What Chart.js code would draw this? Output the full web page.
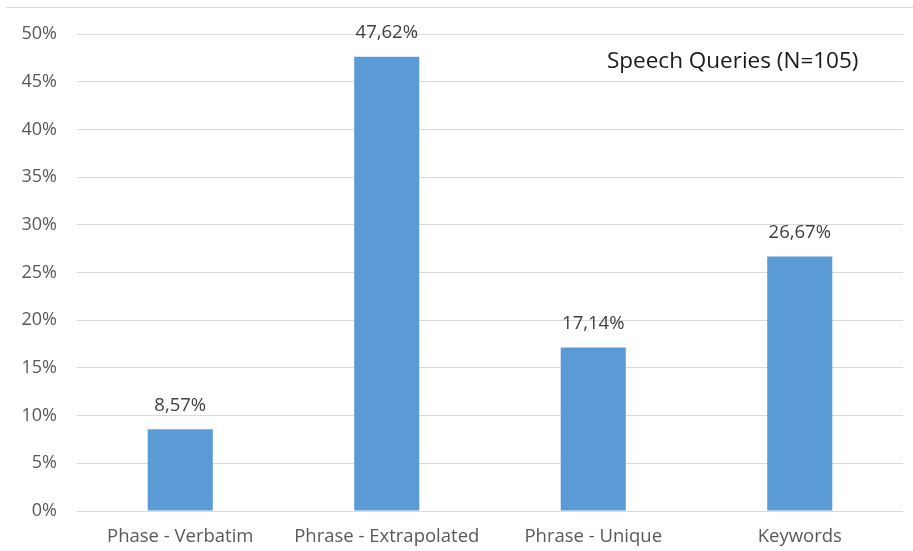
<!DOCTYPE html>
<html>
<head>
<meta charset="utf-8">
<script src="https://cdn.jsdelivr.net/npm/chart.js@4.4.0/dist/chart.umd.min.js"></script>
<style>
  html, body { margin: 0; padding: 0; background: #fff; }
  #wrap { position: relative; width: 913px; height: 551px; }
  #topline { position: absolute; left: 6px; right: 0; top: 7px; border-top: 1px solid #d9d9d9; }
</style>
</head>
<body>
<div id="wrap">
  <div id="topline"></div>
  <canvas id="chart" width="913" height="551"></canvas>
</div>
<script>
// chart data
var categories = ["Phase - Verbatim", "Phrase - Extrapolated", "Phrase - Unique", "Keywords"];
var shares = [8.57, 47.62, 17.14, 26.67];
var chartTitle = "Speech Queries (N=105)";

var fontFam = "'Open Sans', sans-serif";

// value labels over bars, decimal comma
var barLabels = {
    id: 'barLabels',
    afterDatasetsDraw: function(chart){
        var ctx = chart.ctx;
        var meta = chart.getDatasetMeta(0);
        ctx.save();
        ctx.font = "18.5px " + fontFam;
        ctx.fillStyle = "#404040";
        ctx.textAlign = "center";
        ctx.textBaseline = "middle";
        meta.data.forEach(function(bar, i){
            var txt = shares[i].toFixed(2).replace('.', ',') + '%';
            ctx.fillText(txt, bar.x, bar.y - 24);
        });
        ctx.restore();
    }
};

// title inside plot, top right
var innerTitle = {
    id: 'innerTitle',
    afterDraw: function(chart){
        var ctx = chart.ctx;
        var a = chart.chartArea;
        ctx.save();
        ctx.font = "22.5px " + fontFam;
        ctx.fillStyle = "#1a1a1a";
        ctx.textAlign = "left";
        ctx.textBaseline = "middle";
        ctx.fillText(chartTitle, a.left + 530, a.top + 28);
        ctx.restore();
    }
};

new Chart(document.getElementById("chart").getContext('2d'), {
    type: 'bar',
    data: {
        labels: categories,
        datasets: [{
            data: shares,
            backgroundColor: "#5b9bd5",
            borderWidth: 0,
            categoryPercentage: 1,
            barPercentage: 0.315
        }]
    },
    options: {
        responsive: false,
        animation: false,
        layout: { padding: { top: 34, right: 10, left: 0, bottom: 0 } },
        plugins: { legend: { display: false }, tooltip: { enabled: false } },
        scales: {
            x: {
                grid: { display: false },
                border: { display: false },
                ticks: { color: "#595959", font: { family: fontFam, size: 18.5 }, padding: 7 },
                afterFit: function(s){ s.height = 40; }
            },
            y: {
                min: 0, max: 50,
                grid: { color: "#d9d9d9", lineWidth: 1, drawTicks: false },
                border: { display: false },
                ticks: {
                    stepSize: 5,
                    color: "#595959",
                    font: { family: fontFam, size: 18 },
                    padding: 20,
                    callback: function(v){ return v + '%'; }
                },
                afterFit: function(s){ s.width = 77; }
            }
        }
    },
    plugins: [barLabels, innerTitle]
});
</script>
</body>
</html>
